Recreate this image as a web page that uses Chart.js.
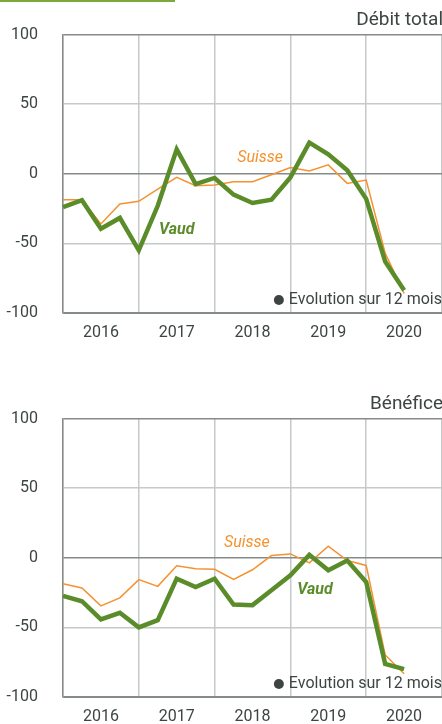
<!DOCTYPE html>
<html>
<head>
<meta charset="utf-8">
<script src="https://cdn.jsdelivr.net/npm/chart.js@4.4.1/dist/chart.umd.min.js"></script>
<style>
  html,body{margin:0;padding:0;background:#fff;width:442px;height:724px;overflow:hidden;}
  #bar{position:absolute;left:0;top:0;width:175px;height:2px;background:#7aab3a;}
  .box{position:absolute;left:0;width:442px;height:360px;}
  #b1{top:0;} #b2{top:384px;}
</style>
</head>
<body>
<div id="bar"></div>
<div class="box" id="b1"><canvas id="c1" width="442" height="360"></canvas></div>
<div class="box" id="b2"><canvas id="c2" width="442" height="360"></canvas></div>
<script>
// ---- data (quarterly, 12-month evolution, %) ----
const years = ['2016','2017','2018','2019','2020'];
const quarters = ['T1 2016','T2 2016','T3 2016','T4 2016','T1 2017','T2 2017','T3 2017','T4 2017',
  'T1 2018','T2 2018','T3 2018','T4 2018','T1 2019','T2 2019','T3 2019','T4 2019',
  'T1 2020','T2 2020','T3 2020','T4 2020','T1 2021'];
const debitVaud   = [-24,-19,-39.5,-31.7,-55,-23,17.6,-7.4,-3,-15,-21,-18.6,-2.6,22.4,14,2.6,-18,-63,-83.6];
const debitSuisse = [-18.6,-18.6,-36,-21.7,-19.8,-11,-2.6,-8.6,-8,-5.7,-5.7,-0.7,4.5,2.1,6.4,-6.9,-4.5,-57,-86];
const benefVaud   = [-27.4,-31.2,-44.3,-39.5,-50,-44.8,-15,-21,-15,-33.6,-34,-23.3,-12.6,2.1,-9,-2,-17.4,-76.2,-80];
const benefSuisse = [-18.6,-21.7,-34.5,-28.8,-15.7,-20.5,-5.7,-7.9,-8.3,-15.5,-8.6,1.6,2.8,-3.6,8.3,-2,-5.5,-69.8,-83.3];
const yTicks = [-100,-50,0,50,100];
const titles = ['Débit total','Bénéfice'];
const legendText = 'Evolution sur 12 mois';

const GREEN = '#5b8c2a', ORANGE = '#f5922f', TEXT = '#3d4542';
const GRID = '#c5cac9', FRAME = '#858b88';
const FONT = "Roboto,'Liberation Sans',Arial,sans-serif";

function makeChart(id, title, vaud, suisse, suisseAt, vaudAt){
  const overlay = {
    id:'overlay',
    afterDraw(chart){
      const {ctx, chartArea:a, scales:{x,y}} = chart;
      ctx.save();
      // title
      ctx.fillStyle = TEXT;
      ctx.font = '19px ' + FONT;
      ctx.textAlign = 'right'; ctx.textBaseline = 'middle';
      ctx.fillText(title, chart.width + 1, a.top - 14);
      // legend
      ctx.font = '16px ' + FONT;
      ctx.textAlign = 'right';
      const ly = a.bottom - 13;
      ctx.fillText(legendText, chart.width, ly);
      const w = ctx.measureText(legendText).width;
      ctx.beginPath();
      ctx.arc(chart.width - w - 10, ly, 5, 0, Math.PI*2);
      ctx.fill();
      // series labels
      ctx.textAlign = 'center';
      ctx.fillStyle = ORANGE;
      ctx.font = 'italic 16px ' + FONT;
      ctx.fillText('Suisse', x.getPixelForValue(suisseAt[0]), y.getPixelForValue(suisseAt[1]));
      ctx.fillStyle = GREEN;
      ctx.font = 'italic bold 16px ' + FONT;
      ctx.fillText('Vaud', x.getPixelForValue(vaudAt[0]), y.getPixelForValue(vaudAt[1]));
      ctx.restore();
    }
  };
  return new Chart(document.getElementById(id), {
    type:'line',
    data:{
      labels: quarters,
      datasets:[
        {label:'Suisse', data:suisse, borderColor:ORANGE, borderWidth:1.5, pointRadius:0, tension:0, order:2},
        {label:'Vaud', data:vaud, borderColor:GREEN, borderWidth:4.5, pointRadius:0, tension:0, order:1, borderJoinStyle:'miter'}
      ]
    },
    options:{
      responsive:false, animation:false,
      layout:{padding:{top:33,left:0,right:0,bottom:0}},
      plugins:{legend:{display:false}, title:{display:false}, tooltip:{enabled:false}},
      scales:{
        x:{
          type:'category', offset:false,
          afterFit(s){ s.height = 47; s.paddingRight = 0; s.paddingLeft = 0; },
          border:{display:true, color:FRAME, width:1},
          grid:{drawTicks:false, color:(c)=> (c.index % 4 === 0 ? GRID : 'rgba(0,0,0,0)'), lineWidth:1.5},
          ticks:{autoSkip:false, maxRotation:0, padding:10, color:TEXT, font:{family:FONT, size:16},
            callback:(v,i)=> (i % 4 === 2 ? years[(i-2)/4] : '')}
        },
        y:{
          min:-100, max:100,
          afterFit(s){ s.width = 63; },
          afterBuildTicks(s){ s.ticks = yTicks.map(v=>({value:v})); },
          border:{display:true, color:FRAME, width:1.5},
          grid:{drawTicks:false, lineWidth:1.5,
            color:(c)=> (c.tick && (c.tick.value === 0 || c.tick.value === 100 || c.tick.value === -100) ? FRAME : GRID)},
          ticks:{padding:25, color:TEXT, font:{family:FONT, size:16}, callback:(v)=> String(v)}
        }
      }
    },
    plugins:[overlay]
  });
}

makeChart('c1', titles[0], debitVaud, debitSuisse, [10.4, 11.4], [6.0, -40.7]);
makeChart('c2', titles[1], benefVaud, benefSuisse, [9.7, 10.9], [13.3, -23.4]);
</script>
</body>
</html>
